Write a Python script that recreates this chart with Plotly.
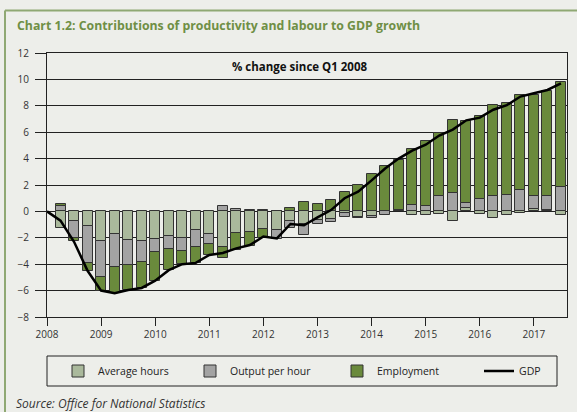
import plotly.graph_objects as go

# ---------------- data ----------------
quarters = ["2008 Q1", "2008 Q2", "2008 Q3", "2008 Q4",
            "2009 Q1", "2009 Q2", "2009 Q3", "2009 Q4",
            "2010 Q1", "2010 Q2", "2010 Q3", "2010 Q4",
            "2011 Q1", "2011 Q2", "2011 Q3", "2011 Q4",
            "2012 Q1", "2012 Q2", "2012 Q3", "2012 Q4",
            "2013 Q1", "2013 Q2", "2013 Q3", "2013 Q4",
            "2014 Q1", "2014 Q2", "2014 Q3", "2014 Q4",
            "2015 Q1", "2015 Q2", "2015 Q3", "2015 Q4",
            "2016 Q1", "2016 Q2", "2016 Q3", "2016 Q4",
            "2017 Q1", "2017 Q2", "2017 Q3"]

# contributions (percentage points), Q2 2008 .. Q3 2017
average_hours = [-1.25, -0.73, -1.13, -2.26, -1.68, -2.13, -2.23, -2.06, -1.87, -2.00,
                 -1.38, -1.70, -2.68, -1.60, -1.55, -1.30, -1.43, -0.73, -0.95, -0.63,
                 -0.60, -0.10, -0.43, -0.35, 0.00, 0.00, -0.25, -0.30, -0.20, -0.75,
                 0.28, -0.18, -0.48, -0.30, -0.15, 0.15, 0.10, -0.25]
output_per_hour = [0.43, -1.25, -2.76, -2.68, -2.56, -1.93, -1.63, -1.00, -0.95, -1.00,
                   -1.30, -0.80, 0.40, 0.20, 0.13, 0.12, -0.65, -0.50, -0.85, -0.35,
                   -0.20, -0.35, -0.10, -0.15, -0.25, 0.10, 0.50, 0.40, 1.13, 1.40,
                   0.38, 0.95, 1.20, 1.28, 1.63, 1.05, 1.05, 1.88]
employment = [0.15, -0.28, -0.60, -1.08, -1.95, -1.88, -1.95, -2.18, -1.63, -0.95,
              -1.20, -0.78, -0.88, -1.33, -1.08, -0.68, 0.00, 0.25, 0.75, 0.53,
              0.88, 1.45, 2.03, 2.83, 3.46, 3.80, 4.21, 4.94, 4.83, 5.49,
              6.18, 6.27, 6.85, 6.94, 7.17, 7.65, 8.00, 7.89]
# GDP, % change since Q1 2008, Q1 2008 .. Q3 2017
gdp = [0.0, -0.7, -2.3, -4.5, -6.0, -6.2, -5.95, -5.8, -5.25, -4.45,
       -4.0, -3.9, -3.3, -3.15, -2.8, -2.55, -1.9, -2.05, -0.95, -1.05,
       -0.45, 0.1, 1.0, 1.5, 2.35, 3.25, 4.0, 4.6, 5.05, 5.75,
       6.2, 6.9, 7.1, 7.7, 8.05, 8.7, 8.95, 9.2, 9.7]

year_ticks = [2008, 2009, 2010, 2011, 2012, 2013, 2014, 2015, 2016, 2017]
year_labels = [str(y) for y in year_ticks]
y_ticks = [-8, -6, -4, -2, 0, 2, 4, 6, 8, 10, 12]

# quarter label -> decimal year position on a linear axis
def qpos(label):
    y, q = label.split(" Q")
    return int(y) + (int(q) - 1) / 4.0

x_all = [qpos(q) for q in quarters]
x_bars = x_all[1:]

# ---------------- style ----------------
BG = "#EDEEEA"
C_AH = "#AAB99C"
C_OPH = "#A3A3A3"
C_EMP = "#6A8A3C"
EDGE = "#333333"
FONT = "Open Sans"

W, H = 577, 412
L, R, T, B = 47, 10, 53, 95
PW, PH = W - L - R, H - T - B

def fx(p):
    return (p - L) / PW

def fy(p):
    return (T + PH - p) / PH

fig = go.Figure()
for name, vals, col, lw in [("Average hours", average_hours, C_AH, 87),
                            ("Output per hour", output_per_hour, C_OPH, 102),
                            ("Employment", employment, C_EMP, 97)]:
    fig.add_trace(go.Bar(x=x_bars, y=vals, name=name, width=0.185, legendwidth=lw,
                         marker=dict(color=col, line=dict(color=EDGE, width=1))))

fig.add_trace(go.Scatter(x=x_all, y=gdp, name="GDP", mode="lines",
                         line=dict(color="#000000", width=2.5), legendwidth=30))

fig.update_layout(
    width=W, height=H,
    margin=dict(l=L, r=R, t=T, b=B, autoexpand=False),
    paper_bgcolor=BG, plot_bgcolor=BG,
    barmode="relative", bargap=0,
    font=dict(family=FONT, size=10, color="#222222"),
    showlegend=True,
    legend=dict(orientation="h", x=fx(58), y=fy(371), xanchor="left", yanchor="middle",
                borderwidth=0, bgcolor="rgba(0,0,0,0)",
                font=dict(size=10.5, color="#222222"), traceorder="normal",
                entrywidthmode="pixels"),
    xaxis=dict(range=[2008, 2008 + (PW / 54.1)], tickmode="array",
               tickvals=year_ticks, ticktext=year_labels,
               showgrid=False, zeroline=False, showline=True, linecolor="#222222",
               linewidth=1, mirror=True, ticks="outside", ticklen=8,
               tickcolor="#222222", tickfont=dict(size=10, color="#333333")),
    yaxis=dict(range=[-8, 12], tickmode="array", tickvals=y_ticks,
               showgrid=True, gridcolor="#222222", gridwidth=1,
               zeroline=False, showline=True, linecolor="#222222", linewidth=1,
               mirror=True, ticks="outside", ticklen=11, tickcolor="#222222",
               ticklabelstandoff=4,
               tickfont=dict(size=10, color="#333333")),
)

# legend frame
fig.add_shape(type="rect", xref="paper", yref="paper", x0=fx(47), x1=fx(557),
              y0=fy(356), y1=fy(386), line=dict(color="#222222", width=1),
              fillcolor="rgba(0,0,0,0)")

fig.add_annotation(xref="paper", yref="paper", x=fx(15), y=fy(26),
                   xanchor="left", yanchor="middle", showarrow=False,
                   text="<b>Chart 1.2: Contributions of productivity and labour to GDP growth</b>",
                   font=dict(size=12.3, color="#6F8F45", family=FONT))
fig.add_annotation(xref="paper", yref="paper", x=fx(300), y=fy(67),
                   xanchor="center", yanchor="middle", showarrow=False,
                   text="<b>% change since Q1 2008</b>",
                   font=dict(size=11.5, color="#111111", family=FONT))
fig.add_annotation(xref="paper", yref="paper", x=fx(14), y=fy(403),
                   xanchor="left", yanchor="middle", showarrow=False,
                   text="<i>Source: Office for National Statistics</i>",
                   font=dict(size=12, color="#333333", family=FONT))

# outer panel frame (top and left rules)
fig.add_shape(type="line", xref="paper", yref="paper", x0=fx(5), x1=fx(580),
              y0=fy(10.5), y1=fy(10.5), line=dict(color="#8FA873", width=2), layer="above")
fig.add_shape(type="line", xref="paper", yref="paper", x0=fx(5), x1=fx(5),
              y0=fy(10.5), y1=fy(415), line=dict(color="#8FA873", width=2), layer="above")

fig.write_html("out.html", config={"displayModeBar": False},
               post_script="document.body.style.margin='0px';"
                           "document.body.style.background='" + BG + "';")
